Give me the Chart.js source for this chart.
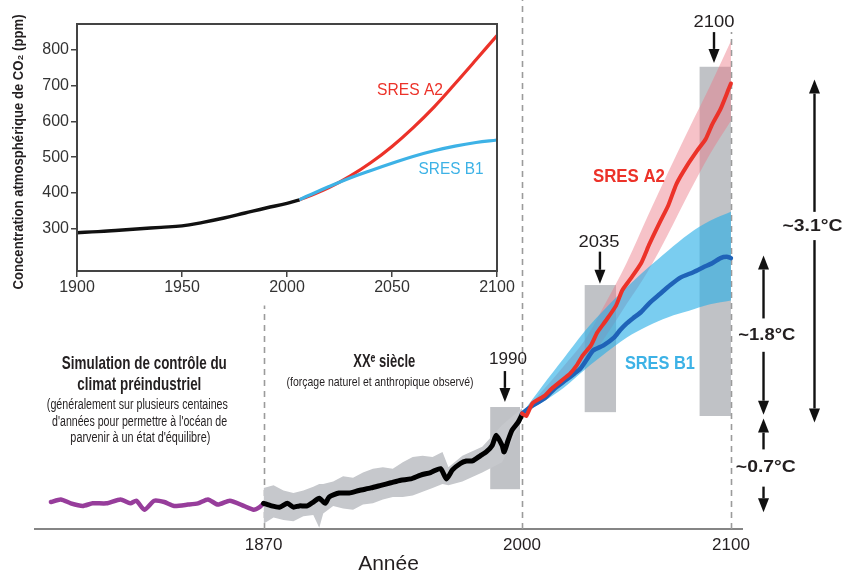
<!DOCTYPE html>
<html>
<head>
<meta charset="utf-8">
<script src="https://cdn.jsdelivr.net/npm/chart.js@4.4.1/dist/chart.umd.min.js"></script>
<style>
  html, body { margin: 0; padding: 0; background: #fff; }
  #wrap { position: relative; width: 842px; height: 573px; overflow: hidden; }
  canvas { position: absolute; left: 0; top: 0; }
</style>
</head>
<body>
<div id="wrap">
  <canvas id="mainChart" width="842" height="573"></canvas>
  <canvas id="co2Chart" width="520" height="300"></canvas>
</div>
<script>
// ---- main chart data (temperature anomaly, °C) ----
const tickYears = [1870, 2000, 2100];

const controlYears = [1763, 1768, 1773, 1779, 1784, 1791, 1798, 1803, 1806, 1810, 1815, 1820, 1825, 1832, 1837, 1842, 1847, 1853, 1860, 1865, 1868, 1870];
const controlTemp = [0.01, 0.03, 0, -0.02, 0, 0, 0.03, 0, 0.02, -0.05, 0.02, 0.01, -0.02, -0.01, 0, 0.03, -0.01, 0.02, -0.02, -0.05, -0.03, 0];

const obsYears = [1870, 1874, 1878, 1882, 1885, 1888, 1892, 1895, 1898, 1901, 1903, 1908, 1913, 1918, 1924, 1929, 1934, 1939, 1944, 1949, 1954, 1959, 1962, 1965, 1969, 1972, 1975, 1979, 1982, 1985, 1987, 1990, 1991, 1993, 1995, 1998, 2000];
const obsTemp = [0, -0.02, -0.03, 0, -0.03, -0.02, -0.02, 0.01, 0.04, 0, 0.05, 0.08, 0.08, 0.10, 0.12, 0.14, 0.16, 0.18, 0.19, 0.22, 0.24, 0.27, 0.19, 0.26, 0.31, 0.33, 0.33, 0.37, 0.40, 0.45, 0.53, 0.45, 0.40, 0.49, 0.57, 0.63, 0.69];

const obsBandYears = [1870, 1875, 1880, 1885, 1890, 1895, 1898, 1900, 1905, 1910, 1915, 1920, 1925, 1930, 1935, 1940, 1945, 1950, 1955, 1960, 1963, 1970, 1980, 1990, 2000];
const obsBandHigh = [0.12, 0.14, 0.10, 0.08, 0.10, 0.13, 0.15, 0.15, 0.17, 0.21, 0.20, 0.24, 0.27, 0.28, 0.27, 0.32, 0.36, 0.37, 0.36, 0.40, 0.28, 0.37, 0.44, 0.61, 0.74];
const obsBandLow = [-0.16, -0.11, -0.13, -0.14, -0.10, -0.09, -0.19, -0.08, -0.02, -0.04, -0.05, -0.01, 0.00, 0.03, 0.05, 0.05, 0.06, 0.09, 0.12, 0.15, 0.14, 0.17, 0.24, 0.32, 0.65];

const a2Years = [2000, 2002, 2005, 2009, 2011, 2014, 2017, 2020, 2023, 2026, 2029, 2033, 2036, 2040, 2045, 2048, 2052, 2057, 2061, 2066, 2070, 2074, 2079, 2084, 2088, 2091, 2095, 2099, 2100];
const a2Temp = [0.70, 0.68, 0.78, 0.82, 0.84, 0.89, 0.93, 0.97, 1.01, 1.07, 1.15, 1.23, 1.33, 1.42, 1.54, 1.66, 1.75, 1.87, 2.02, 2.19, 2.32, 2.49, 2.63, 2.75, 2.84, 2.95, 3.07, 3.23, 3.27];

const b1Years = [2000, 2005, 2011, 2016, 2021, 2025, 2028, 2031, 2034, 2039, 2044, 2047, 2050, 2053, 2057, 2061, 2066, 2071, 2076, 2082, 2087, 2091, 2095, 2098, 2100];
const b1Temp = [0.70, 0.76, 0.82, 0.90, 0.96, 1.01, 1.05, 1.12, 1.19, 1.23, 1.29, 1.35, 1.40, 1.44, 1.49, 1.56, 1.63, 1.70, 1.76, 1.80, 1.84, 1.87, 1.91, 1.92, 1.91];

const bandYears = [2000, 2010, 2020, 2030, 2040, 2050, 2060, 2070, 2080, 2090, 2100];
const a2High = [0.70, 0.88, 1.07, 1.27, 1.56, 1.87, 2.23, 2.58, 2.92, 3.25, 3.60];
const a2Low = [0.70, 0.80, 0.93, 1.08, 1.30, 1.55, 1.80, 2.10, 2.42, 2.72, 2.98];
const b1High = [0.70, 0.92, 1.13, 1.34, 1.52, 1.68, 1.83, 1.97, 2.10, 2.20, 2.27];
const b1Low = [0.70, 0.79, 0.90, 1.04, 1.17, 1.29, 1.38, 1.45, 1.50, 1.55, 1.58];

// grey period boxes around 1990, 2035, 2100
const boxStart = [1984, 2030, 2085];
const boxEnd = [1999, 2045, 2100];
const boxLow = [0.11, 0.71, 0.68];
const boxHigh = [0.75, 1.70, 3.40];

// dashed period markers and how high they reach
const markerYears = [1870, 2000, 2100];
const markerTops = [1.54, 3.92, 3.67];

// ---- inset data (CO2, ppm) ----
const co2TickYears = [1900, 1950, 2000, 2050, 2100];
const co2Ticks = [300, 400, 500, 600, 700, 800];
const co2ObsYears = [1900, 1910, 1920, 1930, 1940, 1950, 1960, 1970, 1980, 1990, 2000, 2006];
const co2Obs = [289, 292, 296, 300, 304, 308, 318, 330, 344, 358, 371, 381];
const co2ScenarioYears = [2006, 2010, 2020, 2030, 2040, 2050, 2060, 2070, 2080, 2090, 2100];
const co2A2 = [381, 390, 415, 447, 485, 530, 582, 640, 705, 772, 840];
const co2B1 = [381, 392, 418, 442, 463, 483, 502, 518, 531, 541, 548];

const SANS = '"Liberation Sans", Arial, sans-serif';
const INK = '#231f20';
const RED = '#ec3229';
const SKY = '#3db2e6';

// x axis of the main figure is a bit stretched after 2000
const BREAK_YEAR = 2000;
const LATE_STRETCH = 1.051;

class WarpScale extends Chart.LinearScale {
  warp(v) { return v <= BREAK_YEAR ? v : BREAK_YEAR + (v - BREAK_YEAR) * LATE_STRETCH; }
  unwarp(w) { return w <= BREAK_YEAR ? w : BREAK_YEAR + (w - BREAK_YEAR) / LATE_STRETCH; }
  getPixelForValue(value) {
    if (value === null || value === undefined) return NaN;
    const a = this.warp(this.min), b = this.warp(this.max);
    return this.getPixelForDecimal((this.warp(value) - a) / (b - a));
  }
  getValueForPixel(pixel) {
    const a = this.warp(this.min), b = this.warp(this.max);
    return this.unwarp(a + this.getDecimalForPixel(pixel) * (b - a));
  }
}
WarpScale.id = 'warp';
Chart.register(WarpScale);

const pts = (xs, ys) => xs.map((x, i) => ({ x, y: ys[i] }));
const plain = v => String(v);

function lineSet(xs, ys, color, width, order) {
  return {
    data: pts(xs, ys), borderColor: color, borderWidth: width, pointRadius: 0,
    fill: false, tension: 0.2, order, borderJoinStyle: 'round', borderCapStyle: 'round'
  };
}

function bandSets(xs, hi, lo, color, order, tension) {
  return [
    { data: pts(xs, hi), borderWidth: 0, pointRadius: 0, backgroundColor: color, fill: '+1', tension, order },
    { data: pts(xs, lo), borderWidth: 0, pointRadius: 0, fill: false, tension, order }
  ];
}

function drawText(ctx, text, x, y, font, color, width, angle) {
  ctx.save();
  ctx.font = font;
  ctx.fillStyle = color;
  ctx.textAlign = 'center';
  ctx.textBaseline = 'middle';
  ctx.translate(x, y);
  if (angle) ctx.rotate(angle);
  if (width) ctx.scale(width / ctx.measureText(text).width, 1);
  ctx.fillText(text, 0, 0);
  ctx.restore();
}

function drawArrow(ctx, x, y0, y1) {
  const dir = y1 > y0 ? 1 : -1;
  const head = 14;
  ctx.beginPath();
  ctx.moveTo(x, y0);
  ctx.lineTo(x, y1 - dir * head);
  ctx.stroke();
  ctx.beginPath();
  ctx.moveTo(x, y1);
  ctx.lineTo(x - 5.5, y1 - dir * head);
  ctx.lineTo(x + 5.5, y1 - dir * head);
  ctx.closePath();
  ctx.fill();
}

const BOLD = size => `bold ${size}px ${SANS}`;
const REG = size => `${size}px ${SANS}`;

const mainNotes = [
  { text: 'Simulation de contrôle du', year: 1810, t: 1.09, font: BOLD(19), width: 165, color: INK },
  { text: 'climat préindustriel', year: 1807.5, t: 0.92, font: BOLD(19), width: 124, color: INK },
  { text: '(généralement sur plusieurs centaines', year: 1806.5, t: 0.765, font: REG(14), width: 181, color: INK },
  { text: "d'années pour permettre à l'océan de", year: 1807.6, t: 0.63, font: REG(14), width: 175, color: INK },
  { text: "parvenir à un état d'équilibre)", year: 1808, t: 0.51, font: REG(14), width: 140, color: INK },
  { text: 'XXᵉ siècle', year: 1930.7, t: 1.10, font: BOLD(19), width: 62, color: INK },
  { text: '(forçage naturel et anthropique observé)', year: 1928.6, t: 0.94, font: REG(13), width: 187, color: INK },
  { text: '1990', year: 1993, t: 1.12, font: REG(17), width: 38, color: INK },
  { text: '2035', year: 2036.8, t: 2.03, font: REG(17), width: 41, color: INK },
  { text: '2100', year: 2091.9, t: 3.75, font: REG(17), width: 41, color: INK },
  { text: 'SRES A2', year: 2051.2, t: 2.54, font: BOLD(19), width: 72, color: RED },
  { text: 'SRES B1', year: 2066, t: 1.09, font: BOLD(19), width: 70, color: SKY },
  { text: '~3.1°C', year: 2139, t: 2.16, font: BOLD(17), width: 60, color: INK },
  { text: '~1.8°C', year: 2117.2, t: 1.31, font: BOLD(17), width: 57, color: INK },
  { text: '~0.7°C', year: 2116.7, t: 0.28, font: BOLD(17), width: 60, color: INK }
];

// shaft start -> arrow tip, in data units
const mainArrows = [
  { year: 1991.4, from: 1.03, to: 0.79 },
  { year: 2037.3, from: 1.96, to: 1.71 },
  { year: 2091.9, from: 3.67, to: 3.43 },
  { year: 2140, from: 2.27, to: 3.30 },
  { year: 2140, from: 2.05, to: 0.63 },
  { year: 2115.6, from: 1.44, to: 1.93 },
  { year: 2115.6, from: 1.18, to: 0.69 },
  { year: 2115.6, from: 0.42, to: 0.66 },
  { year: 2115.6, from: 0.13, to: -0.07 }
];

const mainDecor = {
  id: 'mainDecor',
  beforeDatasetsDraw(chart) {
    const { ctx, scales: { x, y } } = chart;
    ctx.save();
    ctx.fillStyle = '#c0c2c6';
    boxStart.forEach((s, i) => {
      const l = x.getPixelForValue(s), r = x.getPixelForValue(boxEnd[i]);
      const t = y.getPixelForValue(boxHigh[i]), b = y.getPixelForValue(boxLow[i]);
      ctx.fillRect(l, t, r - l, b - t);
    });
    ctx.strokeStyle = '#9b9b9b';
    ctx.lineWidth = 1.6;
    ctx.setLineDash([6, 5]);
    markerYears.forEach((yr, i) => {
      const px = Math.round(x.getPixelForValue(yr)) + 0.5;
      ctx.beginPath();
      ctx.moveTo(px, y.getPixelForValue(y.min));
      ctx.lineTo(px, y.getPixelForValue(markerTops[i]));
      ctx.stroke();
    });
    ctx.restore();
  },
  afterDraw(chart) {
    const { ctx, scales: { x, y } } = chart;
    mainNotes.forEach(n => drawText(ctx, n.text, x.getPixelForValue(n.year), y.getPixelForValue(n.t), n.font, n.color, n.width));
    ctx.save();
    ctx.strokeStyle = '#111';
    ctx.fillStyle = '#111';
    ctx.lineWidth = 2.4;
    mainArrows.forEach(a => drawArrow(ctx, x.getPixelForValue(a.year), y.getPixelForValue(a.from), y.getPixelForValue(a.to)));
    ctx.restore();
  }
};

new Chart(document.getElementById('mainChart'), {
  type: 'line',
  data: {
    datasets: [
      lineSet(a2Years, a2Temp, RED, 4, 1),
      lineSet(b1Years, b1Temp, '#1f63b8', 4.5, 2),
      lineSet(obsYears, obsTemp, '#000', 5, 3),
      lineSet(controlYears, controlTemp, '#973d9b', 4.5, 3),
      ...bandSets(bandYears, b1High, b1Low, 'rgba(40,175,230,0.62)', 6, 0.35),
      ...bandSets(bandYears, a2High, a2Low, 'rgba(235,120,132,0.45)', 7, 0.35),
      ...bandSets(obsBandYears, obsBandHigh, obsBandLow, '#c6c8cc', 8, 0)
    ]
  },
  options: {
    responsive: false,
    animation: false,
    layout: { padding: { left: 35, right: 100, top: 0, bottom: 0 } },
    plugins: { legend: { display: false }, tooltip: { enabled: false } },
    scales: {
      x: {
        type: 'warp',
        min: 1755,
        max: 2105.3,
        afterBuildTicks: s => { s.ticks = tickYears.map(v => ({ value: v })); },
        afterFit: s => { s.height = 44; },
        grid: { display: false, drawTicks: false },
        border: { display: true, color: '#858585', width: 2 },
        ticks: { font: { family: SANS, size: 17 }, color: INK, padding: 6, maxRotation: 0, callback: plain },
        title: { display: true, text: 'Année', font: { family: SANS, size: 21, lineHeight: 1 }, color: INK, padding: { top: 0, bottom: -2 } }
      },
      y: { type: 'linear', display: false, min: -0.2, max: 3.92 }
    }
  },
  plugins: [mainDecor]
});

// ---- inset ----
const co2Decor = {
  id: 'co2Decor',
  afterDraw(chart) {
    const { ctx, chartArea: a, scales: { x, y } } = chart;
    ctx.save();
    ctx.strokeStyle = '#444';
    ctx.lineWidth = 2;
    ctx.strokeRect(a.left, a.top, a.right - a.left, a.bottom - a.top);
    ctx.restore();
    drawText(ctx, 'SRES A2', x.getPixelForValue(2058.6), y.getPixelForValue(688), REG(17), RED, 66);
    drawText(ctx, 'SRES B1', x.getPixelForValue(2078.1), y.getPixelForValue(465), REG(17), SKY, 65);
    drawText(ctx, 'Concentration atmosphérique de CO₂ (ppm)', 19, 152, BOLD(15), INK, 275, -Math.PI / 2);
  }
};

const axisGrid = { drawOnChartArea: false, drawTicks: true, tickLength: 6, color: '#444', lineWidth: 1.5 };

new Chart(document.getElementById('co2Chart'), {
  type: 'line',
  data: {
    datasets: [
      { data: pts(co2ScenarioYears, co2B1), borderColor: SKY, borderWidth: 3.2, pointRadius: 0, tension: 0.4, order: 1 },
      { data: pts(co2ScenarioYears, co2A2), borderColor: RED, borderWidth: 3.2, pointRadius: 0, tension: 0.4, order: 2 },
      { data: pts(co2ObsYears, co2Obs), borderColor: '#111', borderWidth: 3.4, pointRadius: 0, tension: 0.4, order: 3 }
    ]
  },
  options: {
    responsive: false,
    animation: false,
    layout: { padding: { top: 24, right: 23, bottom: 0, left: 0 } },
    plugins: { legend: { display: false }, tooltip: { enabled: false } },
    scales: {
      x: {
        type: 'linear', min: 1900, max: 2100,
        afterBuildTicks: s => { s.ticks = co2TickYears.map(v => ({ value: v })); },
        afterFit: s => { s.height = 29; },
        grid: axisGrid,
        border: { display: true, color: '#444', width: 2 },
        ticks: { font: { family: SANS, size: 16 }, color: '#333', padding: 1, maxRotation: 0, callback: plain }
      },
      y: {
        type: 'linear', min: 182, max: 872,
        afterBuildTicks: s => { s.ticks = co2Ticks.map(v => ({ value: v })); },
        afterFit: s => { s.width = 77; },
        grid: axisGrid,
        border: { display: true, color: '#444', width: 2 },
        ticks: { font: { family: SANS, size: 16 }, color: '#333', padding: 2, callback: plain }
      }
    }
  },
  plugins: [co2Decor]
});
</script>
</body>
</html>
